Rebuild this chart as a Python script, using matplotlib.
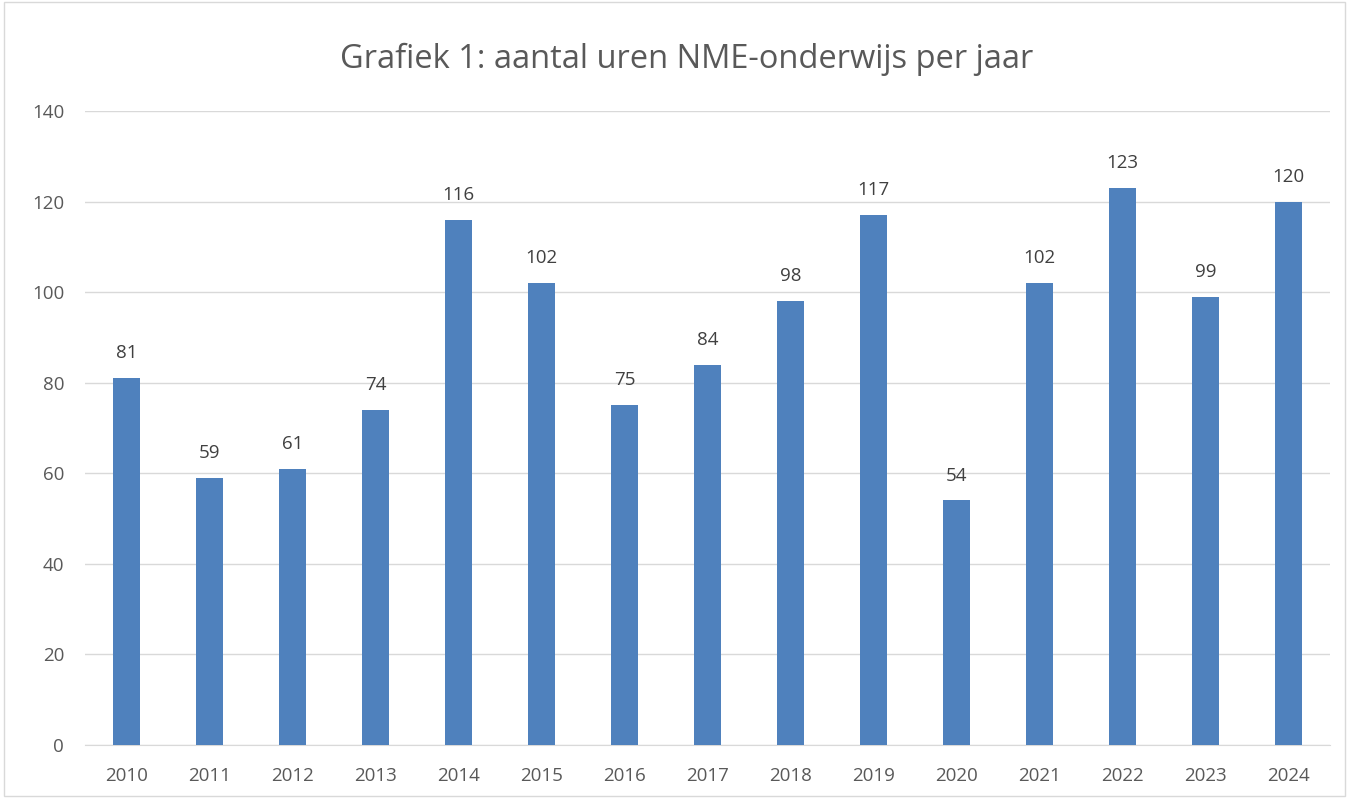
import matplotlib.pyplot as plt

years = ['2010', '2011', '2012', '2013', '2014', '2015', '2016', '2017',
         '2018', '2019', '2020', '2021', '2022', '2023', '2024']
uren = [81, 59, 61, 74, 116, 102, 75, 84, 98, 117, 54, 102, 123, 99, 120]

plt.rcParams['font.family'] = ['Open Sans', 'DejaVu Sans']

fig = plt.figure(figsize=(13.49, 7.98), dpi=100)
ax = fig.add_axes([0.063, 0.0664, 0.923, 0.7946])

x = range(len(years))
bars = ax.bar(x, uren, width=0.32, color='#4F81BD', zorder=3)
for xi, v in zip(x, uren):
  ax.text(xi, v + 3.5, str(v), ha='center', va='bottom', fontsize=13.5, color='#404040')

ax.set_xlim(-0.5, len(years) - 0.5)
ax.set_ylim(0, 140)
ax.set_yticks(range(0, 141, 20))
ax.set_xticks(list(x))
ax.set_xticklabels(years)
ax.grid(axis='y', color='#D9D9D9', linewidth=1, zorder=0)
ax.tick_params(axis='both', length=0, labelsize=13.5, colors='#595959')
ax.tick_params(axis='x', pad=16)
ax.tick_params(axis='y', pad=15)
for s in ['top', 'right', 'left']:
  ax.spines[s].set_visible(False)
ax.spines['bottom'].set_color('#D9D9D9')

fig.text(0.509, 0.926, 'Grafiek 1: aantal uren NME-onderwijs per jaar',
         ha='center', va='center', fontsize=23.5, color='#595959')

# rand om de grafiek
fig.patches.append(plt.Rectangle((0.003, 0.003), 0.994, 0.994, transform=fig.transFigure,
                                 fill=False, edgecolor='#D9D9D9', linewidth=1))

fig.savefig('out.png', dpi=100)
